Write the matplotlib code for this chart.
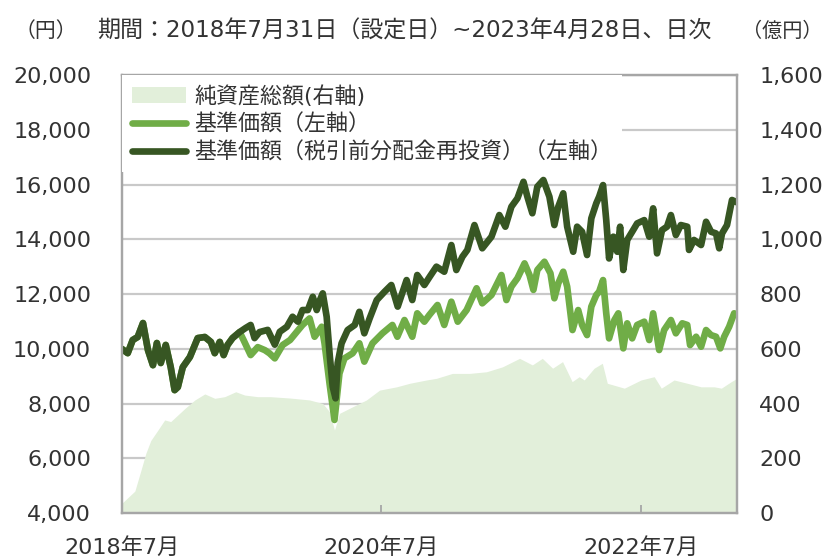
import numpy as np
import pandas as pd
import matplotlib
matplotlib.use("Agg")
import matplotlib.pyplot as plt

plt.rcParams['font.family'] = ['DejaVu Sans', 'Noto Sans CJK JP']

# 基準価額（税引前分配金再投資）(円)
reinv_dates = ['2018-07-31', '2018-08-17', '2018-08-31', '2018-09-14', '2018-09-29', '2018-10-13',
               '2018-10-27', '2018-11-07', '2018-11-18', '2018-12-02', '2018-12-16', '2018-12-27',
               '2019-01-05', '2019-01-19', '2019-02-08', '2019-03-02', '2019-03-22', '2019-04-08',
               '2019-04-19', '2019-05-03', '2019-05-14', '2019-05-25', '2019-06-08', '2019-06-28',
               '2019-07-15', '2019-07-29', '2019-08-09', '2019-08-23', '2019-09-15', '2019-10-05',
               '2019-10-19', '2019-11-08', '2019-11-24', '2019-12-09', '2019-12-22', '2020-01-06',
               '2020-01-20', '2020-01-31', '2020-02-09', '2020-02-17', '2020-02-28', '2020-03-08',
               '2020-03-16', '2020-03-24', '2020-03-30', '2020-04-10', '2020-04-27', '2020-05-17',
               '2020-05-30', '2020-06-13', '2020-06-28', '2020-07-18', '2020-08-09', '2020-08-28',
               '2020-09-15', '2020-10-10', '2020-10-26', '2020-11-09', '2020-11-29', '2020-12-14',
               '2021-01-02', '2021-01-24', '2021-02-13', '2021-02-27', '2021-03-16', '2021-03-30',
               '2021-04-19', '2021-05-11', '2021-06-06', '2021-06-28', '2021-07-15', '2021-08-01',
               '2021-08-18', '2021-09-04', '2021-09-15', '2021-09-29', '2021-10-13', '2021-10-30',
               '2021-11-16', '2021-11-30', '2021-12-11', '2021-12-25', '2022-01-05', '2022-01-22',
               '2022-02-02', '2022-02-16', '2022-03-02', '2022-03-14', '2022-03-28', '2022-04-05',
               '2022-04-16', '2022-04-25', '2022-05-03', '2022-05-15', '2022-05-26', '2022-06-03',
               '2022-06-12', '2022-06-23', '2022-07-07', '2022-07-21', '2022-08-10', '2022-08-24',
               '2022-09-04', '2022-09-15', '2022-09-29', '2022-10-13', '2022-10-24', '2022-11-07',
               '2022-11-21', '2022-12-09', '2022-12-14', '2022-12-28', '2023-01-17', '2023-01-31',
               '2023-02-14', '2023-02-28', '2023-03-09', '2023-03-17', '2023-03-31', '2023-04-14',
               '2023-04-28']
reinv_values = [10000, 9840, 10320, 10430, 10940, 9950,
                9400, 10210, 9480, 10140, 9330, 8490,
                8600, 9330, 9700, 10390, 10430, 10250,
                9840, 10250, 9770, 10140, 10390, 10610,
                10760, 10870, 10390, 10610, 10690, 10150,
                10620, 10805, 11170, 10990, 11415, 11415,
                11900, 11415, 11780, 12025, 11170, 9710,
                8615, 8190, 9480, 10200, 10685, 10870,
                11350, 10565, 11110, 11780, 12085, 12330,
                11540, 12510, 11780, 12695, 12330, 12630,
                13000, 12815, 13790, 12877, 13360, 13610,
                14520, 13670, 14095, 14885, 14460, 15190,
                15495, 16100, 15555, 14950, 15920, 16165,
                15555, 14520, 15190, 15680, 14460, 13545,
                14460, 14275, 13425, 14765, 15315, 15555,
                15980, 14700, 13300, 14095, 13545, 14460,
                12877, 13975, 14275, 14580, 14700, 14095,
                15130, 13485, 14335, 14460, 14885, 14155,
                14520, 14460, 13610, 13975, 13790, 14640,
                14275, 14215, 13670, 14215, 14520, 15435,
                15350]

# 基準価額 (円)
nav_dates = ['2018-07-31', '2018-08-17', '2018-08-31', '2018-09-14', '2018-09-29', '2018-10-13',
             '2018-10-27', '2018-11-07', '2018-11-18', '2018-12-02', '2018-12-16', '2018-12-27',
             '2019-01-05', '2019-01-19', '2019-02-08', '2019-03-02', '2019-03-22', '2019-04-08',
             '2019-04-19', '2019-05-03', '2019-05-14', '2019-05-25', '2019-06-08', '2019-06-28',
             '2019-07-09', '2019-07-29', '2019-08-18', '2019-09-07', '2019-09-20', '2019-10-05',
             '2019-10-27', '2019-11-17', '2019-12-06', '2019-12-22', '2020-01-11', '2020-01-25',
             '2020-02-14', '2020-02-22', '2020-03-07', '2020-03-21', '2020-04-04', '2020-04-18',
             '2020-05-11', '2020-05-30', '2020-06-13', '2020-07-06', '2020-08-03', '2020-08-31',
             '2020-09-14', '2020-10-04', '2020-10-26', '2020-11-09', '2020-11-29', '2020-12-13',
             '2021-01-05', '2021-01-24', '2021-02-13', '2021-03-03', '2021-03-28', '2021-04-25',
             '2021-05-11', '2021-06-06', '2021-07-04', '2021-07-18', '2021-08-01', '2021-08-18',
             '2021-09-07', '2021-09-21', '2021-10-02', '2021-10-13', '2021-11-02', '2021-11-19',
             '2021-11-30', '2021-12-11', '2021-12-25', '2022-01-05', '2022-01-20', '2022-02-05',
             '2022-02-16', '2022-03-02', '2022-03-14', '2022-03-28', '2022-04-05', '2022-04-16',
             '2022-04-25', '2022-05-03', '2022-05-18', '2022-05-29', '2022-06-12', '2022-06-23',
             '2022-07-07', '2022-07-21', '2022-08-10', '2022-08-24', '2022-09-04', '2022-09-21',
             '2022-10-05', '2022-10-24', '2022-11-07', '2022-11-25', '2022-12-09', '2022-12-17',
             '2023-01-03', '2023-01-17', '2023-01-31', '2023-02-14', '2023-02-28', '2023-03-12',
             '2023-03-23', '2023-04-06', '2023-04-20', '2023-04-28']
nav_values = [10000, 9840, 10320, 10430, 10940, 9950,
              9400, 10210, 9480, 10140, 9330, 8490,
              8600, 9330, 9700, 10390, 10430, 10250,
              9840, 10250, 9770, 10140, 10390, 10610,
              10320, 9770, 10060, 9950, 9835, 9650,
              10137, 10320, 10620, 10870, 11110, 10440,
              10805, 10200, 8740, 7400, 9100, 9650,
              9835, 10200, 9530, 10200, 10565, 10870,
              10440, 11050, 10440, 11295, 10990, 11235,
              11600, 10870, 11720, 10990, 11415, 12210,
              11660, 11965, 12695, 11780, 12270, 12575,
              13120, 12695, 12150, 12877, 13180, 12755,
              11845, 12390, 12815, 12270, 10685, 11415,
              10870, 10500, 11540, 11965, 12085, 12510,
              11295, 10380, 11050, 11295, 10015, 10930,
              10380, 10870, 10990, 10320, 11295, 9955,
              10685, 11050, 10565, 10930, 10870, 10135,
              10440, 10075, 10685, 10500, 10440, 10015,
              10440, 10805, 11295, 11250]

# 純資産総額 (億円)
aum_dates = ['2018-07-31', '2018-09-06', '2018-09-23', '2018-10-07', '2018-10-21', '2018-11-10',
             '2018-11-29', '2018-12-16', '2019-01-05', '2019-01-25', '2019-02-22', '2019-03-22',
             '2019-04-19', '2019-05-17', '2019-06-17', '2019-07-12', '2019-08-18', '2019-09-23',
             '2019-11-17', '2020-01-11', '2020-02-17', '2020-03-07', '2020-03-21', '2020-04-04',
             '2020-05-11', '2020-06-19', '2020-07-26', '2020-09-12', '2020-10-19', '2020-12-05',
             '2021-01-02', '2021-02-16', '2021-04-05', '2021-05-23', '2021-07-07', '2021-08-24',
             '2021-09-29', '2021-10-27', '2021-11-25', '2021-12-23', '2022-01-19', '2022-02-08',
             '2022-02-22', '2022-03-22', '2022-04-14', '2022-04-28', '2022-06-15', '2022-08-01',
             '2022-09-07', '2022-09-27', '2022-11-02', '2022-12-09', '2023-01-17', '2023-02-23',
             '2023-03-15', '2023-04-12', '2023-04-28']
aum_values = [35, 80, 155, 218, 265, 303,
              340, 334, 358, 382, 413, 435,
              419, 425, 443, 431, 425, 425,
              420, 413, 400, 370, 303, 364,
              388, 413, 449, 461, 474, 486,
              492, 510, 510, 516, 534, 565,
              541, 565, 529, 553, 480, 498,
              486, 529, 547, 474, 456, 486,
              498, 456, 486, 474, 461, 461,
              456, 480, 492]

left_ticks = [4000, 6000, 8000, 10000, 12000, 14000, 16000, 18000, 20000]
right_ticks = [0, 200, 400, 600, 800, 1000, 1200, 1400, 1600]
x_ticks = ['2018-07-31', '2020-07-31', '2022-07-31']
x_tick_labels = ['2018年7月', '2020年7月', '2022年7月']

c_area = '#e2efda'
c_nav = '#70ad47'
c_reinv = '#375623'
c_grid = '#c9c9c9'
c_spine = '#a6a6a6'
c_text = '#333333'

fig = plt.figure(figsize=(8.25, 5.6), dpi=100)
ax = fig.add_axes([0.1475, 0.0839, 0.7458, 0.7821])
ax2 = ax.twinx()
ax.set_zorder(ax2.get_zorder() + 1)
ax.patch.set_visible(False)

# 純資産総額（右軸）
area = ax2.fill_between(pd.to_datetime(aum_dates), aum_values, 0, color=c_area, lw=0,
                        label='純資産総額(右軸)', zorder=2)
ax2.set_ylim(0, 1600)
ax2.set_yticks(right_ticks)
ax2.set_yticklabels([f'{v:,}' for v in right_ticks], fontsize=16, color=c_text)
ax2.grid(axis='y', color=c_grid, lw=1.6, zorder=0)
ax2.set_axisbelow(True)
ax2.tick_params(axis='y', length=0, pad=16)

# 基準価額 lines（左軸）
l1, = ax.plot(pd.to_datetime(nav_dates), nav_values, color=c_nav, lw=4.8,
              solid_joinstyle='round', solid_capstyle='round', label='基準価額（左軸）')
l2, = ax.plot(pd.to_datetime(reinv_dates), reinv_values, color=c_reinv, lw=4.8,
              solid_joinstyle='round', solid_capstyle='round',
              label='基準価額（税引前分配金再投資）（左軸）')
ax.set_ylim(4000, 20000)
ax.set_yticks(left_ticks)
ax.set_yticklabels([f'{v:,}' for v in left_ticks], fontsize=16, color=c_text)
ax.tick_params(axis='y', length=0, pad=22)

ax.set_xlim(pd.Timestamp('2018-07-31'), pd.Timestamp('2023-04-28'))
ax.set_xticks(pd.to_datetime(x_ticks))
ax.set_xticklabels(x_tick_labels, fontsize=16, color=c_text)
ax.tick_params(axis='x', direction='in', length=6, width=1.3, color=c_spine, pad=17)
ax2.tick_params(axis='x', length=0)

for a in (ax, ax2):
    for s in a.spines.values():
        s.set_color(c_spine)
        s.set_linewidth(1.6)

leg = ax.legend(handles=[area, l1, l2], loc='upper left', bbox_to_anchor=(0.0, 1.0),
                fontsize=15.8, frameon=True, facecolor='white', edgecolor='none', framealpha=1,
                fancybox=False, handlelength=2.5, handletextpad=0.36, labelspacing=0.3,
                borderpad=0.45, borderaxespad=0.0)
for t in leg.get_texts():
    t.set_color(c_text)

fig.text(0.018, 0.945, '（円）', ha='left', va='center', fontsize=15, color=c_text)
fig.text(0.118, 0.945, '期間：2018年7月31日（設定日）~2023年4月28日、日次', ha='left', va='center',
         fontsize=16.6, color=c_text)
fig.text(0.997, 0.945, '（億円）', ha='right', va='center', fontsize=14.5, color=c_text)

fig.savefig('out.png', dpi=100)
